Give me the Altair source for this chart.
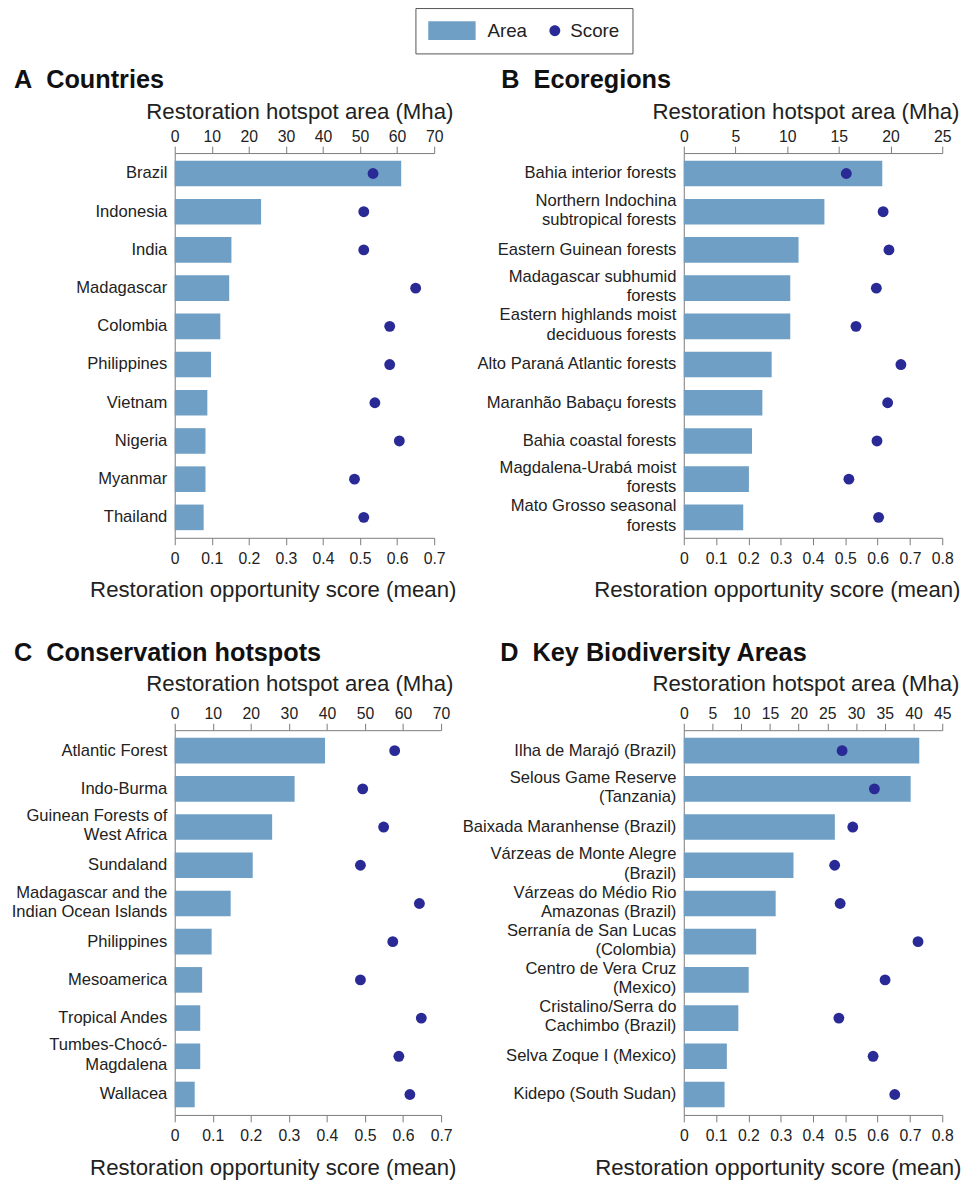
import altair as alt
import pandas as pd

FONT = "Liberation Sans"
BAR = "#6f9fc4"
DOT = "#2a2a96"
TXT = "#222222"
AX = "#7a7a7a"

# Panel A: Countries
a_cats = ["Brazil", "Indonesia", "India", "Madagascar", "Colombia",
          "Philippines", "Vietnam", "Nigeria", "Myanmar", "Thailand"]
a_area = [61.1, 23.3, 15.3, 14.7, 12.3, 9.8, 8.8, 8.3, 8.3, 7.8]
a_score = [0.535, 0.51, 0.51, 0.65, 0.58, 0.58, 0.54, 0.606, 0.485, 0.51]

# Panel B: Ecoregions ("|" marks a line break in the label)
b_cats = ["Bahia interior forests", "Northern Indochina|subtropical forests",
          "Eastern Guinean forests", "Madagascar subhumid|forests",
          "Eastern highlands moist|deciduous forests", "Alto Paraná Atlantic forests",
          "Maranhão Babaçu forests", "Bahia coastal forests",
          "Magdalena-Urabá moist|forests", "Mato Grosso seasonal|forests"]
b_area = [19.2, 13.6, 11.1, 10.3, 10.3, 8.5, 7.6, 6.6, 6.3, 5.75]
b_score = [0.503, 0.617, 0.635, 0.596, 0.533, 0.672, 0.631, 0.598, 0.511, 0.603]

# Panel C: Conservation hotspots
c_cats = ["Atlantic Forest", "Indo-Burma", "Guinean Forests of|West Africa",
          "Sundaland", "Madagascar and the|Indian Ocean Islands", "Philippines",
          "Mesoamerica", "Tropical Andes", "Tumbes-Chocó-|Magdalena", "Wallacea"]
c_area = [39.5, 31.5, 25.6, 20.5, 14.7, 9.7, 7.2, 6.7, 6.7, 5.25]
c_score = [0.578, 0.494, 0.549, 0.488, 0.643, 0.573, 0.488, 0.648, 0.589, 0.618]

# Panel D: Key Biodiversity Areas
d_cats = ["Ilha de Marajó (Brazil)", "Selous Game Reserve|(Tanzania)",
          "Baixada Maranhense (Brazil)", "Várzeas de Monte Alegre|(Brazil)",
          "Várzeas do Médio Rio|Amazonas (Brazil)", "Serranía de San Lucas|(Colombia)",
          "Centro de Vera Cruz|(Mexico)", "Cristalino/Serra do|Cachimbo (Brazil)",
          "Selva Zoque I (Mexico)", "Kidepo (South Sudan)"]
d_area = [41.0, 39.5, 26.3, 19.1, 16.0, 12.6, 11.3, 9.5, 7.5, 7.1]
d_score = [0.49, 0.59, 0.523, 0.467, 0.484, 0.725, 0.623, 0.48, 0.586, 0.653]

ticks_70 = [0, 10, 20, 30, 40, 50, 60, 70]
ticks_25 = [0, 5, 10, 15, 20, 25]
ticks_45 = [0, 5, 10, 15, 20, 25, 30, 35, 40, 45]
score_07 = [0, 0.1, 0.2, 0.3, 0.4, 0.5, 0.6, 0.7]
score_08 = [0, 0.1, 0.2, 0.3, 0.4, 0.5, 0.6, 0.7, 0.8]

series = ["Area", "Score"]
# legend symbol shapes (unit box scaled by sqrt(symbolSize)/2 = 10 px)
RECT_PATH = "M-2.7,-0.95H2.1V0.95H-2.7Z"
DOT_PATH = "M1.18,0A0.55,0.55,0,1,0,2.28,0A0.55,0.55,0,1,0,1.18,0Z"

color_scale = alt.Scale(domain=series, range=[BAR, DOT])
shape_scale = alt.Scale(domain=series, range=[RECT_PATH, DOT_PATH])

legend = alt.Legend(
    title="\u00a0", titleOrient="left", titleFontSize=1, titlePadding=17,
    orient="none", legendX=244, legendY=-147, direction="horizontal",
    symbolSize=400, symbolStrokeWidth=0, labelFont=FONT, labelFontSize=19,
    labelColor=TXT, labelOffset=23, columnPadding=0, padding=13,
    strokeColor="#555555",
)

LABEL_FS = 16.8


def panel(letter, name, cats, areas, scores, amax, aticks, smax, sticks,
          width, dx, top_title_y, bottom_title_y, top_title_x, bottom_title_x):
    df = pd.DataFrame({"cat": cats, "area": areas, "score": scores})
    y = alt.Y(
        "cat:N", sort=cats, title=None,
        scale=alt.Scale(paddingInner=0.33, paddingOuter=0.2),
        axis=alt.Axis(labelExpr="split(datum.label, '|')", ticks=False,
                      labelPadding=8, labelLineHeight=19.5, labelLimit=400,
                      labelFontSize=LABEL_FS, domainColor=AX,
                      labelOffset={"condition": {"test": "indexof(datum.label, '|') >= 0",
                                                 "value": -11}, "value": 0}),
    )
    bars = alt.Chart(df).transform_calculate(series="'Area'").mark_bar().encode(
        x=alt.X("area:Q", scale=alt.Scale(domain=[0, amax], nice=False, zero=True),
                axis=alt.Axis(orient="top", values=aticks, format="d",
                              title="Restoration hotspot area (Mha)",
                              titleX=top_title_x, titleY=top_title_y, titleAlign="right",
                              titleBaseline="alphabetic", labelFlush=False,
                              labelOverlap=False)),
        y=y,
        color=alt.Color("series:N", scale=color_scale, legend=legend),
    )
    points = alt.Chart(df).transform_calculate(series="'Score'").mark_point(
        filled=True, size=121, opacity=1
    ).encode(
        x=alt.X("score:Q", scale=alt.Scale(domain=[0, smax], nice=False, zero=True),
                axis=alt.Axis(orient="bottom", values=sticks, format=".1~f",
                              labelPadding=6,
                              title="Restoration opportunity score (mean)",
                              titleX=bottom_title_x, titleY=bottom_title_y,
                              titleAlign="right", titleBaseline="alphabetic",
                              labelFlush=False, labelOverlap=False)),
        y=y,
        color=alt.Color("series:N", scale=color_scale, legend=legend),
        shape=alt.Shape("series:N", scale=shape_scale, legend=legend,
                        condition={"test": "true", "value": "circle"}),
    )
    return alt.layer(bars, points).resolve_scale(x="independent").properties(
        width=width, height=390,
        title=alt.TitleParams(f"{letter}\u00a0\u00a0{name}", anchor="start", frame="group",
                              dx=dx, fontSize=25.6, font=FONT, fontWeight="bold",
                              color="#111111", offset=7),
    )


pA = panel("A", "Countries", a_cats, a_area, a_score, 70, ticks_70, 0.7, score_07,
           263, -163, -35, 59, 282, 285)
pB = panel("B", "Ecoregions", b_cats, b_area, b_score, 25, ticks_25, 0.8, score_08,
           262, -185, -35, 59, 279, 280)
pC = panel("C", "Conservation hotspots", c_cats, c_area, c_score, 70, ticks_70, 0.7,
           score_07, 270, -163, -40, 60, 282, 285)
pD = panel("D", "Key Biodiversity Areas", d_cats, d_area, d_score, 45, ticks_45, 0.8,
           score_08, 262, -186, -40, 60, 279, 281)

chart = alt.concat(pA, pB, pC, pD, columns=2,
                   spacing={"row": 40, "column": 6}).properties(
    padding={"left": 3, "top": -9, "right": 0, "bottom": 0},
    background="white",
).configure_view(stroke=None).configure_axis(
    labelFont=FONT, titleFont=FONT, labelColor=TXT, titleColor=TXT,
    domainColor=AX, tickColor=AX, grid=False, labelFontSize=16,
    titleFontSize=22.5, titleFontWeight="normal", tickSize=7,
)

chart.save("out.html", embed_options={"renderer": "svg", "actions": False})
